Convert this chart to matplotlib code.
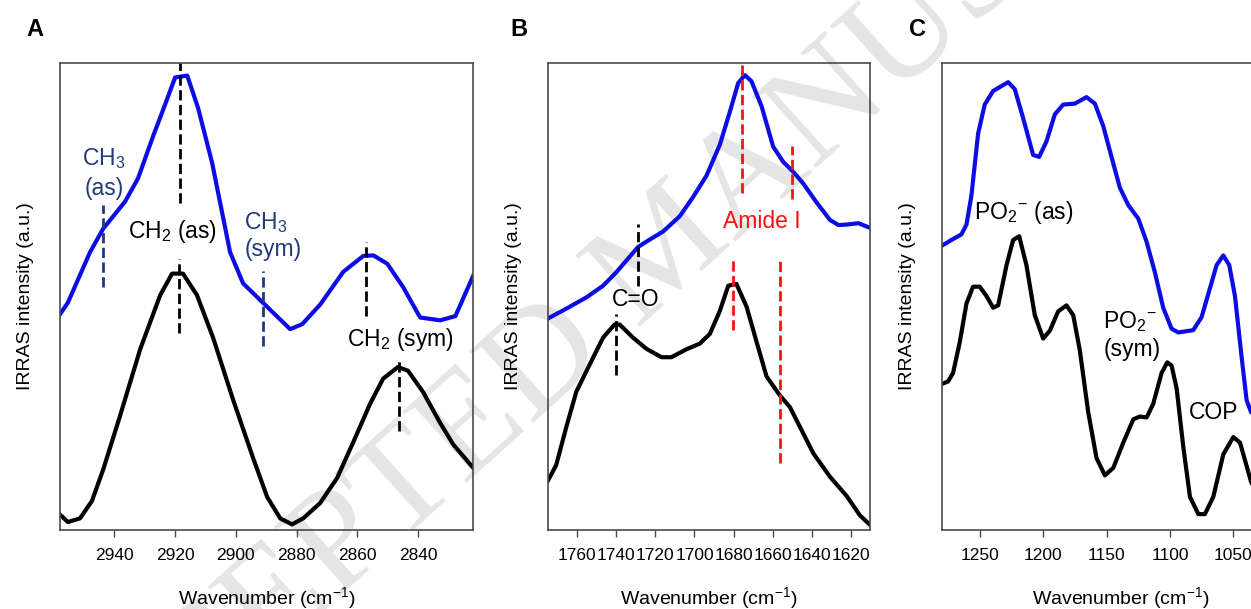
import matplotlib
matplotlib.use('Agg')
import matplotlib.pyplot as plt

plt.rcParams['font.family'] = ['Liberation Sans', 'DejaVu Sans']
plt.rcParams['mathtext.fontset'] = 'custom'
plt.rcParams['mathtext.rm'] = 'Liberation Sans'

# ---- panel A: C-H stretching region ----
wnA_blue = [2957.9, 2955.3, 2948.0, 2943.7, 2936.5, 2932.2, 2927.2, 2923.3, 2920.0,
            2916.0, 2912.4, 2907.8, 2901.9, 2897.6, 2889.7, 2882.1, 2878.1, 2872.2,
            2864.6, 2858.0, 2854.7, 2850.1, 2844.9, 2839.3, 2832.7, 2827.7, 2821.8]
intA_blue = [0.462, 0.487, 0.595, 0.645, 0.703, 0.753, 0.844, 0.911, 0.969,
             0.973, 0.903, 0.786, 0.595, 0.528, 0.478, 0.430, 0.441, 0.483,
             0.553, 0.587, 0.588, 0.570, 0.520, 0.455, 0.449, 0.458, 0.545]
wnA_black = [2957.9, 2955.3, 2951.3, 2947.4, 2943.7, 2938.1, 2931.5, 2924.9, 2921.0,
             2917.4, 2912.8, 2907.5, 2900.9, 2894.3, 2889.7, 2885.4, 2881.5, 2877.8,
             2872.2, 2866.6, 2861.4, 2855.8, 2851.5, 2846.6, 2843.3, 2838.3, 2832.7,
             2828.4, 2821.8]
intA_black = [0.033, 0.017, 0.025, 0.062, 0.129, 0.245, 0.387, 0.503, 0.549,
              0.549, 0.503, 0.412, 0.279, 0.154, 0.071, 0.025, 0.012, 0.025,
              0.058, 0.112, 0.187, 0.270, 0.324, 0.349, 0.341, 0.295, 0.229,
              0.183, 0.133]

# ---- panel B: carbonyl / amide I region ----
wnB_blue = [1775.0, 1765.6, 1755.4, 1746.8, 1740.0, 1733.2, 1728.9, 1722.9, 1716.1,
            1707.5, 1700.7, 1693.8, 1687.0, 1681.9, 1677.6, 1674.2, 1670.8, 1665.6,
            1659.7, 1654.5, 1649.4, 1644.3, 1637.4, 1630.6, 1626.3, 1622.1, 1616.1,
            1610.1]
intB_blue = [0.453, 0.474, 0.498, 0.523, 0.552, 0.585, 0.606, 0.622, 0.639,
             0.672, 0.713, 0.759, 0.825, 0.895, 0.957, 0.974, 0.961, 0.907,
             0.821, 0.788, 0.767, 0.742, 0.701, 0.664, 0.653, 0.654, 0.657,
             0.647]
wnB_black = [1775.0, 1770.8, 1765.6, 1760.5, 1753.7, 1746.8, 1740.9, 1738.3, 1731.5,
             1724.6, 1716.9, 1711.8, 1704.1, 1697.3, 1692.1, 1687.0, 1682.7, 1678.5,
             1673.3, 1668.2, 1663.1, 1656.2, 1651.1, 1646.0, 1639.1, 1630.6, 1622.1,
             1615.2, 1610.1]
intB_black = [0.106, 0.139, 0.221, 0.296, 0.354, 0.412, 0.440, 0.440, 0.412,
              0.388, 0.370, 0.370, 0.387, 0.399, 0.420, 0.469, 0.523, 0.527,
              0.478, 0.403, 0.329, 0.288, 0.263, 0.221, 0.164, 0.114, 0.073,
              0.031, 0.011]

# ---- panel C: phosphate region ----
wnC_blue = [1279.7, 1272.4, 1264.5, 1260.5, 1256.6, 1251.3, 1246.1, 1239.5, 1227.6,
            1222.4, 1215.8, 1207.9, 1203.2, 1197.4, 1190.8, 1184.2, 1175.0, 1165.8,
            1159.2, 1152.6, 1146.1, 1139.5, 1132.9, 1125.0, 1118.4, 1111.8, 1105.3,
            1098.7, 1093.4, 1081.6, 1075.0, 1068.4, 1063.2, 1057.9, 1053.2, 1048.7,
            1043.4, 1039.5, 1036.1, 1030.0, 1022.0]
intC_blue = [0.609, 0.621, 0.633, 0.654, 0.716, 0.849, 0.911, 0.940, 0.959,
             0.944, 0.882, 0.803, 0.799, 0.832, 0.890, 0.911, 0.913, 0.927,
             0.913, 0.865, 0.799, 0.733, 0.696, 0.667, 0.617, 0.551, 0.476,
             0.431, 0.423, 0.428, 0.456, 0.518, 0.567, 0.588, 0.567, 0.501,
             0.369, 0.278, 0.253, 0.235, 0.230]
wnC_black = [1279.7, 1275.0, 1271.1, 1265.8, 1260.5, 1255.3, 1250.0, 1244.7, 1239.5,
             1235.5, 1228.9, 1223.7, 1218.9, 1213.2, 1206.6, 1200.0, 1194.7, 1188.2,
             1181.6, 1176.3, 1171.1, 1164.5, 1157.9, 1151.3, 1144.7, 1136.8, 1128.9,
             1123.7, 1118.4, 1113.2, 1106.6, 1102.1, 1098.7, 1094.7, 1089.5, 1084.2,
             1077.6, 1072.4, 1065.8, 1057.9, 1050.0, 1044.7, 1039.5, 1036.1, 1030.0]
intC_black = [0.313, 0.318, 0.336, 0.402, 0.485, 0.521, 0.521, 0.501, 0.476,
              0.481, 0.567, 0.621, 0.629, 0.567, 0.460, 0.410, 0.427, 0.468,
              0.481, 0.460, 0.385, 0.253, 0.154, 0.117, 0.133, 0.187, 0.237,
              0.243, 0.241, 0.270, 0.336, 0.359, 0.352, 0.303, 0.179, 0.071,
              0.034, 0.034, 0.071, 0.162, 0.199, 0.187, 0.137, 0.104, 0.070]

BLUE = '#0c0ce4'
NAVY = '#1f3a78'
RED = '#ff1010'
DASH = (0, (3.7, 1.6))
PO2 = 'PO$\\mathregular{_2{}^{-}}$'

fig = plt.figure(figsize=(12.51, 6.09), dpi=100)

# faint diagonal watermark behind everything
fig.text(0.535, 0.585, 'ACCEPTED MANUSCRIPT', rotation=42, rotation_mode='anchor',
         fontsize=106, family='Liberation Serif', color='#e5e5e5',
         ha='center', va='center', zorder=-1)

axA = fig.add_axes([60/1251, 79/609, 413/1251, 467/609])
axB = fig.add_axes([548/1251, 79/609, 322/1251, 467/609])
axC = fig.add_axes([942/1251, 79/609, 358/1251, 467/609])

for ax in (axA, axB, axC):
    ax.patch.set_alpha(0)
    ax.set_ylim(0, 1)
    ax.set_yticks([])
    for s in ax.spines.values():
        s.set_color('#4a4a4a')
        s.set_linewidth(1.2)
    ax.tick_params(axis='x', direction='out', length=5, width=1, color='#4a4a4a',
                   labelsize=12.5, pad=8)
    ax.set_xlabel('Wavenumber (cm$\\mathregular{^{-1}}$)', fontsize=14, labelpad=16)
    ax.set_ylabel('IRRAS intensity (a.u.)', fontsize=14, labelpad=19)

# A
axA.plot(wnA_blue, intA_blue, color=BLUE, lw=3)
axA.plot(wnA_black, intA_black, color='black', lw=3)
axA.set_xlim(2957.9, 2821.9)
axA.set_xticks([2940, 2920, 2900, 2880, 2860, 2840])
axA.vlines([2918.4, 2918.6, 2857.0, 2846.4], [0.70, 0.422, 0.458, 0.212],
           [1.0, 0.580, 0.616, 0.369], colors='black', lw=2, linestyles=[DASH])
axA.vlines([2943.6, 2890.9], [0.520, 0.395], [0.695, 0.555], colors=NAVY, lw=2,
           linestyles=[DASH])
axA.text(2943.4, 0.782, 'CH$\\mathregular{_3}$', color=NAVY, fontsize=16.5, ha='center', va='baseline')
axA.text(2943.4, 0.717, '(as)', color=NAVY, fontsize=16.5, ha='center', va='baseline')
axA.text(2920.8, 0.625, 'CH$\\mathregular{_2}$ (as)', fontsize=16.5, ha='center', va='baseline')
axA.text(2897.2, 0.645, 'CH$\\mathregular{_3}$', color=NAVY, fontsize=16.5, ha='left', va='baseline')
axA.text(2897.2, 0.587, '(sym)', color=NAVY, fontsize=16.5, ha='left', va='baseline')
axA.text(2845.8, 0.393, 'CH$\\mathregular{_2}$ (sym)', fontsize=16.5, ha='center', va='baseline')

# B
axB.plot(wnB_blue, intB_blue, color=BLUE, lw=3)
axB.plot(wnB_black, intB_black, color='black', lw=3)
axB.set_xlim(1775.0, 1610.1)
axB.set_xticks(list(range(1760, 1619, -20)))
axB.vlines([1675.4, 1650.3, 1680.2, 1656.1], [0.721, 0.709, 0.428, 0.143],
           [1.0, 0.823, 0.585, 0.585], colors=RED, lw=2, linestyles=[DASH])
axB.vlines([1728.7, 1740.3], [0.523, 0.331], [0.655, 0.463], colors='black', lw=2,
           linestyles=[DASH])
axB.text(1665.7, 0.647, 'Amide I', color=RED, fontsize=16.5, ha='center', va='baseline')
axB.text(1730.0, 0.48, 'C=O', fontsize=16.5, ha='center', va='baseline')

# C
axC.plot(wnC_blue, intC_blue, color=BLUE, lw=3)
axC.plot(wnC_black, intC_black, color='black', lw=3)
axC.set_xlim(1279.8, 997.4)
axC.set_xticks([1250, 1200, 1150, 1100, 1050])
axC.text(1254.7, 0.667, PO2 + ' (as)', fontsize=16.5, ha='left', va='baseline')
axC.text(1152.7, 0.433, PO2, fontsize=16.5, ha='left', va='baseline')
axC.text(1152.7, 0.373, '(sym)', fontsize=16.5, ha='left', va='baseline')
axC.text(1084.8, 0.237, 'COP', fontsize=16.5, ha='left', va='baseline')

# panel letters
fig.text(35/1251, 1 - 30/609, 'A', fontsize=17, fontweight='bold', ha='center', va='center')
fig.text(519/1251, 1 - 30/609, 'B', fontsize=17, fontweight='bold', ha='center', va='center')
fig.text(918/1251, 1 - 30/609, 'C', fontsize=17, fontweight='bold', ha='center', va='center')

fig.savefig('out.png', dpi=100)
